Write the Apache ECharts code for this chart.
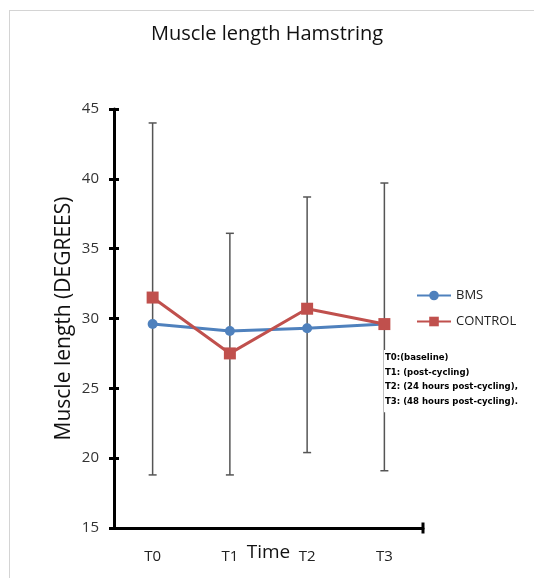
<!DOCTYPE html>
<html><head><meta charset="utf-8">
<script src="https://cdn.jsdelivr.net/npm/echarts@6/dist/echarts.min.js"></script>
<style>html,body{margin:0;padding:0;background:#fff}#c{width:534px;height:578px}</style>
</head><body><div id="c"></div>
<script>
var categories = ['T0', 'T1', 'T2', 'T3'];
var bmsValues = [29.6, 29.1, 29.3, 29.6];
var controlValues = [31.5, 27.5, 30.7, 29.6];
var errLow = [18.8, 18.8, 20.4, 19.1];
var errHigh = [44.0, 36.1, 38.7, 39.7];
var yTicks = [15, 20, 25, 30, 35, 40, 45];
var noteLines = ['T0:(baseline)', 'T1: (post-cycling)', 'T2: (24 hours post-cycling),', 'T3: (48 hours post-cycling).'];

var chart = echarts.init(document.getElementById('c'));
var font = '"Open Sans", "Noto Sans", sans-serif';
var errData = categories.map(function (c, i) { return [i, errLow[i], errHigh[i]]; });

chart.setOption({
  backgroundColor: '#fff',
  animation: false,
  title: {
    text: 'Muscle length Hamstring', left: 'center', top: 19,
    textStyle: { fontFamily: font, fontSize: 20, fontWeight: 'normal', color: '#111' }
  },
  legend: {
    orient: 'vertical', left: 411, top: 284, itemGap: 13,
    itemWidth: 34, itemHeight: 12,
    textStyle: { fontFamily: font, fontSize: 13, color: '#222' },
    data: ['BMS', 'CONTROL']
  },
  grid: { left: 114, right: 111, top: 109, bottom: 50, outerBoundsMode: 'none', containLabel: false },
  xAxis: [{
    type: 'category', data: categories, boundaryGap: true,
    name: 'Time', nameLocation: 'middle', nameGap: 25, nameMoveOverlap: false,
    nameTextStyle: { fontFamily: font, fontSize: 19, color: '#111', verticalAlign: 'middle' },
    axisLine: { lineStyle: { color: '#000', width: 3 }, symbol: ['none', 'rect'], symbolSize: [11, 3] },
    axisTick: { alignWithLabel: true, length: 5, lineStyle: { color: '#000', width: 3 } },
    axisLabel: { fontFamily: font, fontSize: 15, color: '#222', margin: 21 }
  }, {
    type: 'category', data: categories, boundaryGap: true, position: 'bottom',
    axisLine: { show: false },
    axisTick: { inside: true, alignWithLabel: true, length: 5, lineStyle: { color: '#000', width: 3 } },
    axisLabel: { show: false }
  }],
  yAxis: [{
    type: 'value', min: 15, max: 45, interval: 5,
    name: 'Muscle length (DEGREES)', nameLocation: 'middle', nameGap: 39, nameRotate: 90, nameMoveOverlap: false,
    nameTextStyle: { fontFamily: font, fontSize: 21, color: '#111' },
    axisLine: { show: true, lineStyle: { color: '#000', width: 3 } },
    axisTick: { show: true, length: 5, lineStyle: { color: '#000', width: 3 } },
    axisLabel: { fontFamily: font, fontSize: 15, color: '#333', margin: 15,
      formatter: function (v) { return yTicks.indexOf(v) >= 0 ? String(v) : ''; } },
    splitLine: { show: false }
  }, {
    type: 'value', min: 15, max: 45, interval: 5, position: 'left',
    axisLine: { show: false },
    axisTick: { show: true, inside: true, length: 5, lineStyle: { color: '#000', width: 3 } },
    axisLabel: { show: false }, splitLine: { show: false }
  }],
  graphic: [{
    type: 'text', left: 384, top: 350, z: 100,
    style: {
      text: noteLines.join('\n'),
      font: 'bold 9.5px "Liberation Sans Narrow", "DejaVu Sans Condensed", sans-serif',
      fill: '#000', lineHeight: 14.8,
      backgroundColor: '#fff', padding: [0, 2, 3, 1]
    }
  }],
  series: [{
    type: 'custom', name: 'err', z: 1,
    data: errData,
    renderItem: function (params, api) {
      var x = api.value(0);
      var lo = api.coord([x, api.value(1)]);
      var hi = api.coord([x, api.value(2)]);
      var cap = 4;
      var st = { stroke: '#555', lineWidth: 1.5 };
      return {
        type: 'group', children: [
          { type: 'line', shape: { x1: lo[0], y1: lo[1], x2: hi[0], y2: hi[1] }, style: st },
          { type: 'line', shape: { x1: lo[0] - cap, y1: lo[1], x2: lo[0] + cap, y2: lo[1] }, style: st },
          { type: 'line', shape: { x1: hi[0] - cap, y1: hi[1], x2: hi[0] + cap, y2: hi[1] }, style: st }
        ]
      };
    }
  }, {
    type: 'line', name: 'BMS', data: bmsValues, z: 3,
    symbol: 'circle', symbolSize: 10,
    lineStyle: { color: '#4f81bd', width: 3 },
    itemStyle: { color: '#4f81bd' }
  }, {
    type: 'line', name: 'CONTROL', data: controlValues, z: 4,
    symbol: 'rect', symbolSize: 12,
    lineStyle: { color: '#c0504d', width: 3 },
    itemStyle: { color: '#c0504d' }
  }]
});
</script>
<div style="position:absolute;left:9px;top:10px;width:525px;height:1px;background:#d4d4d4"></div>
<div style="position:absolute;left:9px;top:10px;width:1px;height:568px;background:#d4d4d4"></div>
</body></html>
